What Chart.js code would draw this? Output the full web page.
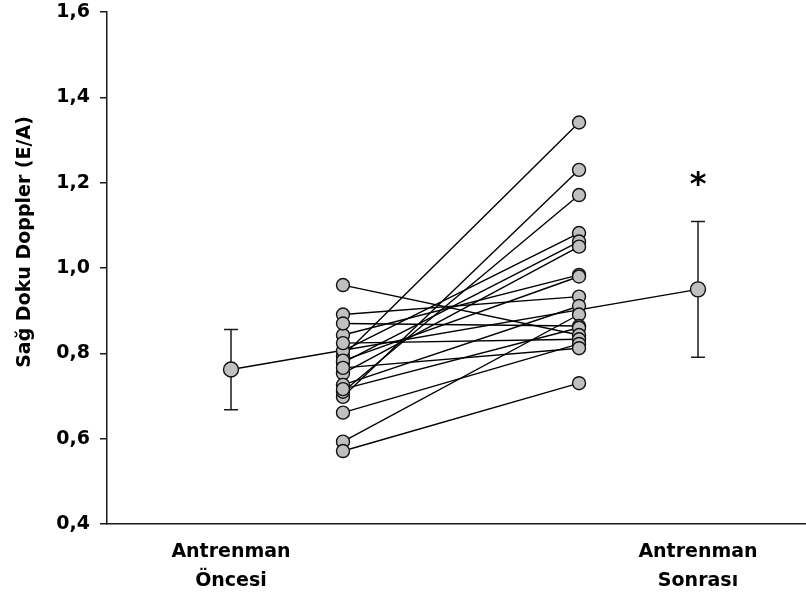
<!DOCTYPE html>
<html>
<head>
<meta charset="utf-8">
<script src="https://cdn.jsdelivr.net/npm/chart.js@4.4.1/dist/chart.umd.min.js"></script>
<style>
  html, body { margin: 0; padding: 0; background: #ffffff; }
  canvas { display: block; }
</style>
</head>
<body>
<canvas id="chart" width="806" height="594"></canvas>
<script>
// Group labels (two lines each) and y-axis ticks
const groupLabels = [['Antrenman', 'Öncesi'], ['Antrenman', 'Sonrası']];
const yTickValues = [0.4, 0.6, 0.8, 1.0, 1.2, 1.4, 1.6];
const yTitle = 'Sağ Doku Doppler (E/A)';

// Paired individual E/A values (same index = same subject)
const preValues  = [0.794, 0.698, 0.710, 0.806, 0.778, 0.753, 0.843, 0.783, 0.891,
                    0.726, 0.593, 0.870, 0.716, 0.960, 0.824, 0.661, 0.766, 0.571];
const postValues = [1.341, 1.230, 1.171, 1.082, 1.062, 1.050, 0.984, 0.980, 0.933,
                    0.911, 0.891, 0.864, 0.860, 0.843, 0.833, 0.822, 0.812, 0.730];

// Group means with SD error bars
const groupMeans = [0.762, 0.950];
const groupSD    = [0.094, 0.159];
const significanceMarks = ['', '*'];

// Horizontal placement of the four columns on a 0-100 x scale
const X_POS = { preMean: 17.74, preEach: 33.76, postEach: 67.53, postMean: 84.55 };
const meanX = [X_POS.preMean, X_POS.postMean];

const FONT = 'DejaVu Sans';
const INK = '#1a1a1a';
const MARKER_FILL = '#c0c0c0';

// Connecting lines for each subject (drawn underneath every marker)
const subjectLines = preValues.map((v, i) => ({
  data: [{ x: X_POS.preEach, y: v }, { x: X_POS.postEach, y: postValues[i] }],
  borderColor: '#000',
  borderWidth: 1.4,
  pointRadius: 0,
  order: 3
}));

const meanLine = {
  data: groupMeans.map((m, i) => ({ x: meanX[i], y: m })),
  borderColor: '#000',
  borderWidth: 1.4,
  pointRadius: 0,
  order: 3
};

const subjectPoints = {
  data: preValues.map(v => ({ x: X_POS.preEach, y: v }))
        .concat(postValues.map(v => ({ x: X_POS.postEach, y: v }))),
  showLine: false,
  pointRadius: 6.5,
  pointBackgroundColor: MARKER_FILL,
  pointBorderColor: '#111',
  pointBorderWidth: 1.4,
  order: 1
};

const meanPoints = {
  data: groupMeans.map((m, i) => ({ x: meanX[i], y: m })),
  showLine: false,
  pointRadius: 7.5,
  pointBackgroundColor: MARKER_FILL,
  pointBorderColor: '#111',
  pointBorderWidth: 1.4,
  order: 1
};

// Error bars, significance star and rotated y title
const extrasPlugin = {
  id: 'extras',
  beforeDatasetsDraw(chart) {
    const { ctx, scales: { x, y } } = chart;
    ctx.save();
    ctx.strokeStyle = INK;
    ctx.lineWidth = 1.5;
    groupMeans.forEach((m, i) => {
      const px = x.getPixelForValue(meanX[i]);
      const top = y.getPixelForValue(m + groupSD[i]);
      const bot = y.getPixelForValue(m - groupSD[i]);
      const cap = 7;
      ctx.beginPath();
      ctx.moveTo(px, top); ctx.lineTo(px, bot);
      ctx.moveTo(px - cap, top); ctx.lineTo(px + cap, top);
      ctx.moveTo(px - cap, bot); ctx.lineTo(px + cap, bot);
      ctx.stroke();
    });
    ctx.restore();
  },
  afterDraw(chart) {
    const { ctx, scales: { x, y } } = chart;
    ctx.save();
    ctx.fillStyle = '#000';
    ctx.textAlign = 'center';
    ctx.textBaseline = 'middle';
    ctx.font = 'bold 32px ' + FONT;
    significanceMarks.forEach((mark, i) => {
      if (!mark) return;
      const px = x.getPixelForValue(meanX[i]);
      const top = y.getPixelForValue(groupMeans[i] + groupSD[i]);
      ctx.fillText(mark, px, top - 36);
    });
    ctx.font = 'bold 19px ' + FONT;
    ctx.translate(25, 242);
    ctx.rotate(-Math.PI / 2);
    ctx.fillText(yTitle, 0, 0);
    ctx.restore();
  }
};

new Chart(document.getElementById('chart'), {
  type: 'line',
  data: { datasets: [...subjectLines, meanLine, subjectPoints, meanPoints] },
  options: {
    responsive: false,
    devicePixelRatio: 1,
    animation: false,
    layout: { autoPadding: false, padding: { top: 12, right: 0, left: 0, bottom: 0 } },
    plugins: { legend: { display: false }, tooltip: { enabled: false } },
    scales: {
      x: {
        type: 'linear',
        min: 0,
        max: 100,
        afterBuildTicks: s => { s.ticks = meanX.map(v => ({ value: v })); },
        afterFit: s => { s.height = 70; s.paddingLeft = 0; s.paddingRight = 0; },
        grid: { display: false },
        border: { display: true, color: INK, width: 1.5 },
        ticks: {
          autoSkip: false,
          maxRotation: 0,
          padding: 6,
          color: '#000',
          font: { family: FONT, weight: 'bold', size: 19, lineHeight: 1.5 },
          callback: (v, i) => groupLabels[i]
        }
      },
      y: {
        type: 'linear',
        min: 0.4,
        max: 1.6,
        afterBuildTicks: s => { s.ticks = yTickValues.map(v => ({ value: v })); },
        afterFit: s => { s.width = 107; s.paddingTop = 0; s.paddingBottom = 0; },
        grid: { drawOnChartArea: false, drawTicks: true, tickLength: 7, color: INK, lineWidth: 1.5 },
        border: { display: true, color: INK, width: 1.5 },
        ticks: {
          padding: 10,
          color: '#000',
          font: { family: FONT, weight: 'bold', size: 19 },
          callback: v => v.toFixed(1).replace('.', ',')
        }
      }
    }
  },
  plugins: [extrasPlugin]
});
</script>
</body>
</html>
